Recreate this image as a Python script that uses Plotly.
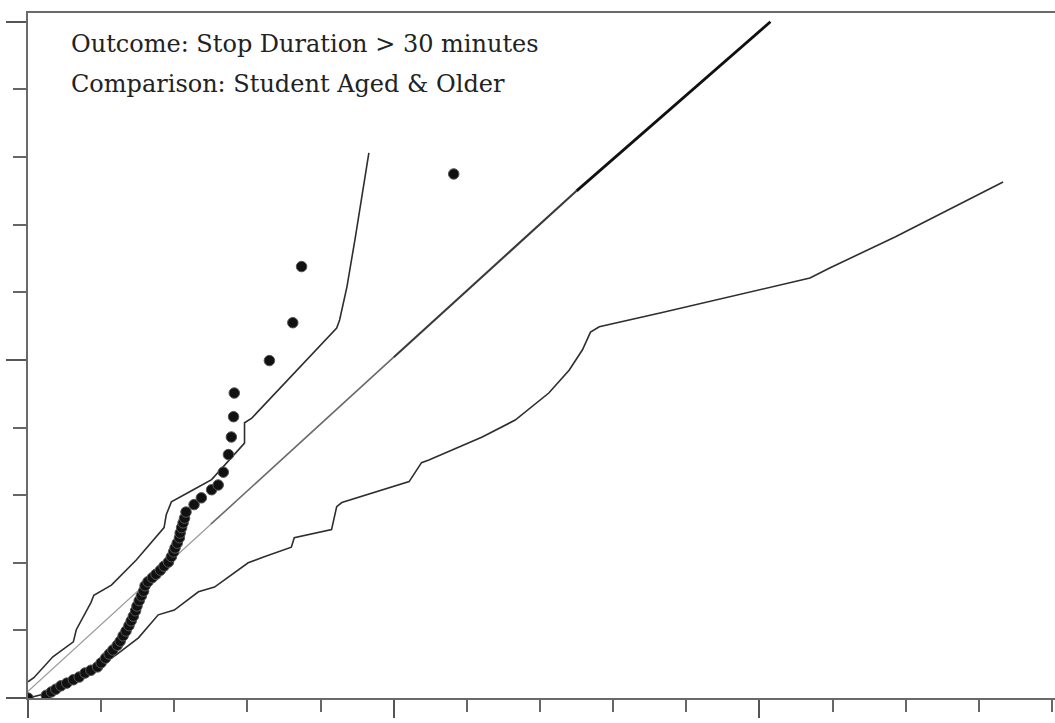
import plotly.graph_objects as go

# Observed quantiles (points)
obs_x = [0.00, 0.25, 0.32, 0.38, 0.45, 0.53, 0.62, 0.70, 0.78, 0.86, 0.95, 1.00, 1.06, 1.11,
         1.16, 1.22, 1.26, 1.30, 1.34, 1.38, 1.41, 1.44, 1.47, 1.49, 1.52, 1.55, 1.58, 1.60,
         1.64, 1.70, 1.75, 1.81, 1.86, 1.92, 1.96, 1.99, 2.01, 2.04, 2.07, 2.08, 2.10, 2.12,
         2.14, 2.16, 2.27, 2.37, 2.51, 2.60, 2.67, 2.74, 2.78, 2.81, 2.82, 3.30, 3.62, 3.74, 5.82]
obs_y = [0.00, 0.04, 0.09, 0.13, 0.18, 0.22, 0.27, 0.31, 0.37, 0.41, 0.46, 0.52, 0.59, 0.65,
         0.71, 0.78, 0.84, 0.92, 0.99, 1.07, 1.14, 1.21, 1.29, 1.36, 1.44, 1.51, 1.58, 1.66,
         1.72, 1.78, 1.83, 1.89, 1.95, 2.01, 2.09, 2.16, 2.22, 2.29, 2.37, 2.44, 2.52, 2.59,
         2.66, 2.75, 2.86, 2.96, 3.08, 3.15, 3.34, 3.60, 3.86, 4.16, 4.51, 4.99, 5.55, 6.38, 7.75]

# Upper envelope
up_x = [0.00, 0.08, 0.34, 0.62, 0.66, 0.86, 0.90, 1.14, 1.48, 1.86, 1.89, 1.96, 2.26, 2.51,
        2.96, 2.96, 3.06, 4.22, 4.26, 4.36, 4.47, 4.56, 4.66]
up_y = [0.24, 0.30, 0.61, 0.83, 1.01, 1.41, 1.52, 1.67, 2.04, 2.52, 2.71, 2.90, 3.08, 3.23,
        3.77, 4.07, 4.14, 5.47, 5.59, 6.08, 6.78, 7.41, 8.06]

# Lower envelope
lo_x = [0.00, 0.45, 0.86, 1.21, 1.51, 1.78, 2.00, 2.33, 2.55, 3.01, 3.23, 3.51, 3.60, 3.64,
        4.15, 4.22, 4.29, 5.21, 5.38, 5.48, 5.89, 6.21, 6.66, 7.12, 7.40, 7.58, 7.69, 7.81,
        8.67, 9.59, 10.69, 10.96, 11.86, 13.33]
lo_y = [0.00, 0.12, 0.39, 0.64, 0.89, 1.23, 1.30, 1.57, 1.64, 2.00, 2.09, 2.19, 2.23, 2.37,
        2.49, 2.83, 2.89, 3.20, 3.48, 3.52, 3.71, 3.86, 4.11, 4.51, 4.85, 5.15, 5.41, 5.49,
        5.70, 5.93, 6.21, 6.36, 6.82, 7.63]

# Reference line (drawn in segments of increasing weight)
ref_x = [0.00, 2.50, 5.00, 7.50, 10.15]
ref_y = [0.10, 2.57, 5.04, 7.50, 10.00]
ref_colors = ["#9a9a9a", "#6a6a6a", "#3a3a3a", "#111111"]
ref_widths = [1.2, 1.6, 2.1, 2.8]

annot_lines = ["Outcome: Stop Duration > 30 minutes", "Comparison: Student Aged & Older"]

fig = go.Figure()

for i in range(len(ref_x) - 1):
    fig.add_trace(go.Scatter(x=ref_x[i:i + 2], y=ref_y[i:i + 2], mode="lines",
                             line=dict(color=ref_colors[i], width=ref_widths[i]),
                             showlegend=False, hoverinfo="skip"))

fig.add_trace(go.Scatter(x=up_x, y=up_y, mode="lines",
                         line=dict(color="#2e2e2e", width=1.6), showlegend=False))
fig.add_trace(go.Scatter(x=lo_x, y=lo_y, mode="lines",
                         line=dict(color="#2e2e2e", width=1.6), showlegend=False))
fig.add_trace(go.Scatter(x=obs_x, y=obs_y, mode="markers",
                         marker=dict(color="#111111", size=10.5,
                                     line=dict(color="#555555", width=1)),
                         showlegend=False))

for i, t in enumerate(annot_lines):
    fig.add_annotation(x=0.04, xref="paper", y=0.955 - i * 0.058, yref="paper",
                       text=t, showarrow=False, xanchor="left", yanchor="middle",
                       font=dict(family="DejaVu Serif", size=24, color="#222222"))

fig.update_layout(
    width=1055, height=723,
    margin=dict(l=28, r=0, t=13, b=25),
    paper_bgcolor="white", plot_bgcolor="white",
    xaxis=dict(range=[0, 14.04], showgrid=False, zeroline=False,
               showline=True, linecolor="#6a6a6a", linewidth=2, mirror=True,
               ticks="outside", dtick=5, tick0=0, ticklen=18, tickwidth=2,
               tickcolor="#555555", showticklabels=False,
               minor=dict(dtick=1, tick0=0, ticks="outside", ticklen=12,
                          tickwidth=2, tickcolor="#666666")),
    yaxis=dict(range=[0, 10.13], showgrid=False, zeroline=False,
               showline=True, linecolor="#6a6a6a", linewidth=2,
               ticks="outside", dtick=5, tick0=0, ticklen=20, tickwidth=2,
               tickcolor="#555555", showticklabels=False,
               minor=dict(dtick=1, tick0=0, ticks="outside", ticklen=13,
                          tickwidth=2, tickcolor="#666666")),
)

fig.write_html("out.html")
